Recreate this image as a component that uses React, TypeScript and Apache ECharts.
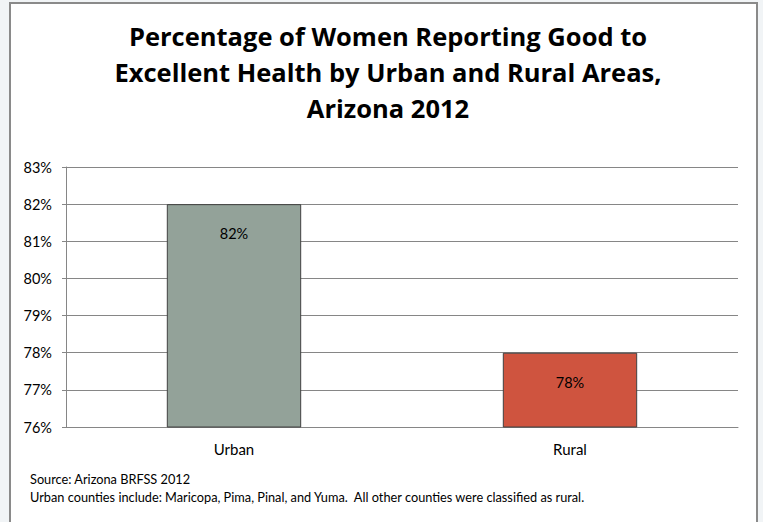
import React, { useEffect, useRef } from "react";
import * as echarts from "echarts";

const categories = ["Urban", "Rural"];
const values = [82, 78];
const barColors = ["#93A299", "#CF543F"];
const yMin = 76;
const yMax = 83;
const yInterval = 1;
const titleText = "Percentage of Women Reporting Good to\nExcellent Health by Urban and Rural Areas,\nArizona 2012";
const noteLines = [
  "Source: Arizona BRFSS 2012",
  "Urban counties include: Maricopa, Pima, Pinal, and Yuma.  All other counties were classified as rural.",
];

const FONT = "Lato, 'Open Sans', sans-serif";
const TITLE_FONT = "'Open Sans', sans-serif";

export default function App() {
  const ref = useRef<HTMLDivElement>(null);
  useEffect(() => {
    document.body.style.margin = "0";
    const chart = echarts.init(ref.current!, undefined, { renderer: "svg" });
    chart.setOption({
      animation: false,
      backgroundColor: "#F1F4F6",
      textStyle: { fontFamily: FONT },
      title: {
        text: titleText,
        left: 383,
        textAlign: "center",
        top: 13,
        textStyle: {
          fontFamily: TITLE_FONT,
          fontSize: 25.5,
          fontWeight: "bold",
          lineHeight: 36,
          color: "#000000",
        },
      },
      graphic: [
        {
          type: "rect",
          z: -10,
          silent: true,
          shape: { x: 10, y: 3, width: 747, height: 540 },
          style: { fill: "#FFFFFF", stroke: "#8A8A8A", lineWidth: 2 },
        },
        {
          type: "text",
          left: 30,
          top: 470,
          style: {
            text: noteLines.join("\n"),
            fontFamily: FONT,
            fontSize: 12.75,
            lineHeight: 18,
            fill: "#000000",
          },
        },
      ],
      grid: { left: 66, right: 25, top: 167, bottom: 95, containLabel: false },
      xAxis: {
        type: "category",
        data: categories,
        axisLine: { show: true, lineStyle: { color: "#868686", width: 1 } },
        axisTick: { show: false },
        axisLabel: { color: "#000000", fontSize: 15, margin: 14, fontFamily: FONT },
      },
      yAxis: {
        type: "value",
        min: yMin,
        max: yMax,
        interval: yInterval,
        axisLine: { show: true, lineStyle: { color: "#868686", width: 1 } },
        axisTick: { show: true, length: 4, lineStyle: { color: "#868686" } },
        axisLabel: { formatter: "{value}%", color: "#000000", fontSize: 14.5, margin: 14, fontFamily: FONT },
        splitLine: { show: true, lineStyle: { color: "#868686", width: 1 } },
      },
      series: [
        {
          type: "bar",
          barWidth: "40%",
          data: values.map((v, i) => ({
            value: v,
            itemStyle: { color: barColors[i], borderColor: "#404040", borderWidth: 1 },
          })),
          label: {
            show: true,
            position: "insideTop",
            distance: 22,
            formatter: "{c}%",
            color: "#000000",
            fontSize: 14.5,
            fontFamily: FONT,
          },
        },
      ],
    });
    return () => chart.dispose();
  }, []);
  return <div ref={ref} style={{ width: 763, height: 522 }} />;
}
